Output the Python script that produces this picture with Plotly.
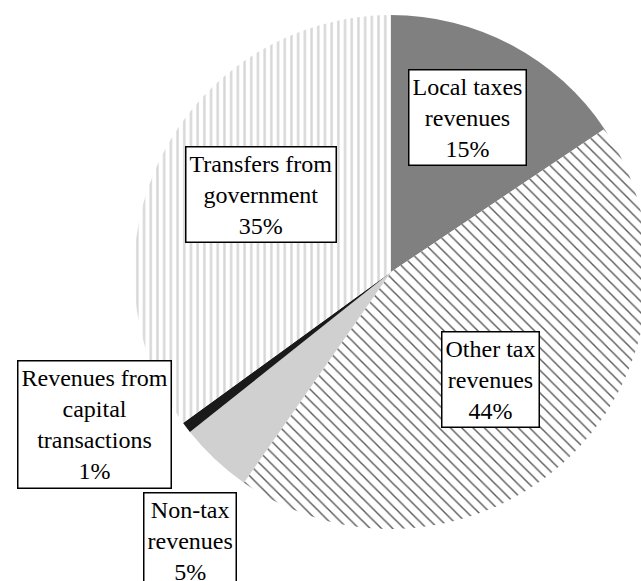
import plotly.graph_objects as go

# Data
categories = ["Local taxes revenues", "Other tax revenues", "Non-tax revenues",
              "Revenues from capital transactions", "Transfers from government"]
values = [15.6, 44.1, 4.6, 0.7, 35.0]
label_texts = ["Local taxes<br>revenues<br>15%",
               "Other tax<br>revenues<br>44%",
               "Non-tax<br>revenues<br>5%",
               "Revenues from<br>capital<br>transactions<br>1%",
               "Transfers from<br>government<br>35%"]

# Styles
colors = ["#808080", "#ffffff", "#d0d0d0", "#1a1a1a", "#ffffff"]
shapes = ["", "\\", "", "", "|"]
fgcolors = ["#808080", "#5c5c5c", "#d0d0d0", "#1a1a1a", "#d6d6d6"]
sizes = [8, 8, 8, 8, 6.7]
solidities = [0.3, 0.18, 0.3, 0.3, 0.36]

W, H = 660, 581
fig = go.Figure(go.Pie(
    labels=categories, values=values, sort=False, direction="clockwise",
    rotation=0, textinfo="none", hoverinfo="label+percent",
    marker=dict(colors=colors, line=dict(width=0),
                pattern=dict(shape=shapes, fgcolor=fgcolors, bgcolor=colors,
                             size=sizes, solidity=solidities, fillmode="replace")),
    domain=dict(x=[134 / W, 648 / W], y=[(H - 529) / H, (H - 15) / H]),
    showlegend=False,
))

# label box centres (page pixels)
label_pos = [(467.5, 117.5), (490, 379.5), (190, 540), (94.5, 424), (260.5, 194.5)]
for txt, (px, py) in zip(label_texts, label_pos):
    fig.add_annotation(x=px / W, y=1 - py / H, xref="paper", yref="paper",
                       text=txt, showarrow=False, align="center",
                       font=dict(family="Liberation Serif, serif", size=24, color="black"),
                       bgcolor="white", bordercolor="black", borderwidth=1.5,
                       borderpad=3, xanchor="center", yanchor="middle")

fig.update_layout(width=W, height=H, margin=dict(l=0, r=0, t=0, b=0),
                  paper_bgcolor="white", plot_bgcolor="white")

fig.write_html("out.html", config={"displayModeBar": False},
               post_script="document.body.style.margin='0';document.body.style.overflow='hidden';")
